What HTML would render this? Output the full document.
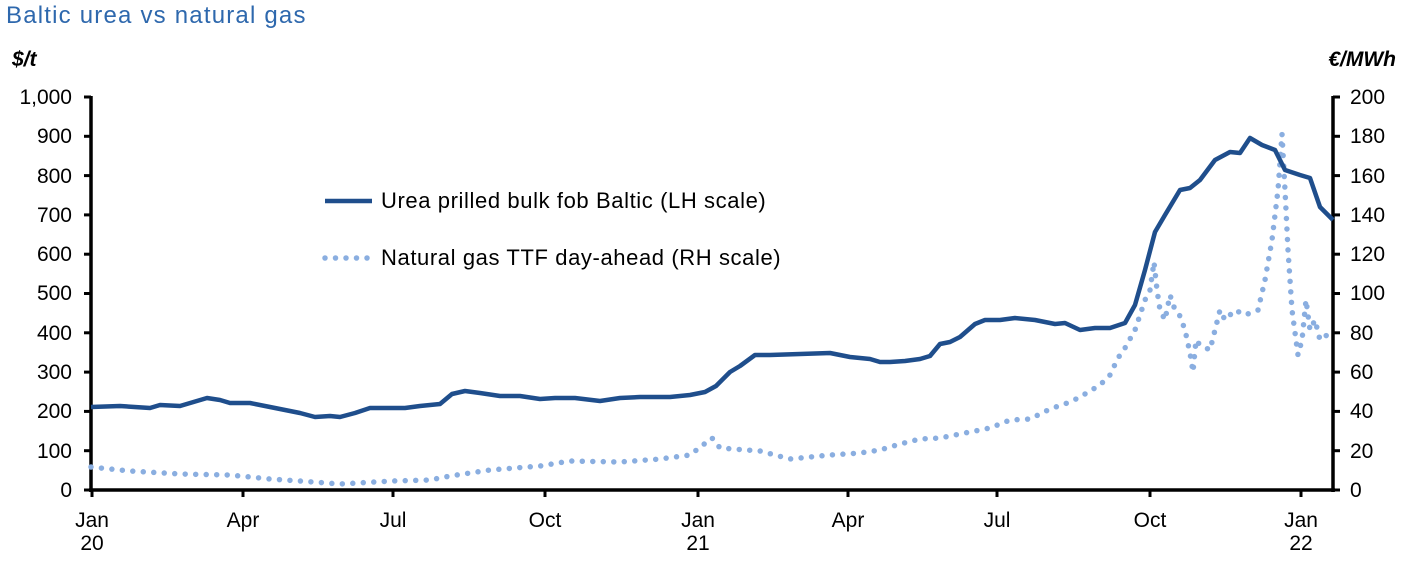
<!DOCTYPE html><html><head><style>body{margin:0;background:#fff}svg{display:block}text{font-family:"Liberation Sans",sans-serif;font-size:21px;fill:#000}</style></head><body>
<svg width="1409" height="573" viewBox="0 0 1409 573">
<text x="6" y="23" style="font-size:24px;fill:#2e68ad;letter-spacing:1.2px">Baltic urea vs natural gas</text>
<text x="12" y="66" style="font-weight:bold;font-style:italic">$/t</text>
<text x="1396" y="66" text-anchor="end" style="font-weight:bold;font-style:italic">€/MWh</text>
<g stroke="#000" stroke-width="3.5" fill="none">
<line x1="91" y1="96" x2="91" y2="492"/><line x1="1333" y1="96" x2="1333" y2="492"/><line x1="89" y1="490" x2="1335" y2="490"/>
</g>
<polyline fill="none" stroke="#8aaee0" stroke-width="5.5" stroke-linecap="round" stroke-dasharray="0 10.5" points="91,467 130,471 180,474 230,475 270,479 300,481 340,484 392,481 430,480 450,476 490,470 540,466 570,461 620,462 660,459 690,455 712,438 720,448 760,451 790,459 830,455 860,453 880,450 900,444 920,439 940,438 960,434 990,428 1010,420 1030,419 1050,409 1070,402 1080,397 1100,385 1110,375 1118,358 1125,348 1135,330 1145,300 1150,290 1154,262 1157,290 1160,310 1165,320 1170,295 1175,310 1180,316 1185,330 1190,353 1193,372 1196,340 1200,345 1210,350 1220,310 1225,320 1235,310 1245,315 1258,310 1265,280 1272,240 1278,190 1282,134 1285,190 1288,250 1292,310 1296,340 1298,355 1302,340 1306,300 1310,330 1315,320 1320,340 1327,335 1333,338"/>
<polyline fill="none" stroke="#1f4e8c" stroke-width="4.5" stroke-linejoin="round" points="91,407 120,406 150,408 160,405 180,406 207,398 220,400 230,403 250,403 270,407 300,413 315,417 330,416 340,417 355,413 370,408 385,408 405,408 420,406 440,404 452,394 465,391 480,393 500,396 520,396 540,399 555,398 575,398 600,401 620,398 640,397 670,397 690,395 705,392 716,386 730,372 740,366 755,355 770,355 800,354 830,353 850,357 870,359 880,362 890,362 905,361 920,359 930,356 940,344 950,342 960,337 975,324 985,320 1000,320 1015,318 1035,320 1055,324 1065,323 1080,330 1095,328 1110,328 1125,323 1135,305 1145,270 1155,232 1165,215 1180,190 1190,188 1200,180 1215,160 1230,152 1240,153 1250,138 1262,145 1275,150 1285,170 1300,175 1310,178 1320,207 1333,220"/>
<line x1="325" y1="201" x2="372" y2="201" stroke="#1f4e8c" stroke-width="4.5"/>
<text x="381" y="208" style="font-size:22px;letter-spacing:0.6px">Urea prilled bulk fob Baltic (LH scale)</text>
<line x1="325" y1="258" x2="372" y2="258" stroke="#8aaee0" stroke-width="5.5" stroke-linecap="round" stroke-dasharray="0 10.5"/>
<text x="381" y="265" style="font-size:22px;letter-spacing:0.6px">Natural gas TTF day-ahead (RH scale)</text>
<g stroke="#000" stroke-width="3">
<line x1="84" y1="490" x2="91" y2="490"/><line x1="84" y1="450.7" x2="91" y2="450.7"/><line x1="84" y1="411.4" x2="91" y2="411.4"/><line x1="84" y1="372.1" x2="91" y2="372.1"/><line x1="84" y1="332.8" x2="91" y2="332.8"/><line x1="84" y1="293.5" x2="91" y2="293.5"/><line x1="84" y1="254.2" x2="91" y2="254.2"/><line x1="84" y1="214.9" x2="91" y2="214.9"/><line x1="84" y1="175.6" x2="91" y2="175.6"/><line x1="84" y1="136.3" x2="91" y2="136.3"/><line x1="84" y1="97" x2="91" y2="97"/>
<line x1="1333" y1="490" x2="1340" y2="490"/><line x1="1333" y1="450.7" x2="1340" y2="450.7"/><line x1="1333" y1="411.4" x2="1340" y2="411.4"/><line x1="1333" y1="372.1" x2="1340" y2="372.1"/><line x1="1333" y1="332.8" x2="1340" y2="332.8"/><line x1="1333" y1="293.5" x2="1340" y2="293.5"/><line x1="1333" y1="254.2" x2="1340" y2="254.2"/><line x1="1333" y1="214.9" x2="1340" y2="214.9"/><line x1="1333" y1="175.6" x2="1340" y2="175.6"/><line x1="1333" y1="136.3" x2="1340" y2="136.3"/><line x1="1333" y1="97" x2="1340" y2="97"/>
<line x1="92" y1="490" x2="92" y2="497"/><line x1="243" y1="490" x2="243" y2="497"/><line x1="393" y1="490" x2="393" y2="497"/><line x1="545" y1="490" x2="545" y2="497"/><line x1="698" y1="490" x2="698" y2="497"/><line x1="848" y1="490" x2="848" y2="497"/><line x1="997" y1="490" x2="997" y2="497"/><line x1="1150" y1="490" x2="1150" y2="497"/><line x1="1301" y1="490" x2="1301" y2="497"/>
</g>
<g text-anchor="end">
<text x="72" y="497">0</text><text x="72" y="458">100</text><text x="72" y="418">200</text><text x="72" y="379">300</text><text x="72" y="340">400</text><text x="72" y="300">500</text><text x="72" y="261">600</text><text x="72" y="222">700</text><text x="72" y="183">800</text><text x="72" y="143">900</text><text x="72" y="104">1,000</text>
</g>
<g>
<text x="1350" y="497">0</text><text x="1350" y="458">20</text><text x="1350" y="418">40</text><text x="1350" y="379">60</text><text x="1350" y="340">80</text><text x="1350" y="300">100</text><text x="1350" y="261">120</text><text x="1350" y="222">140</text><text x="1350" y="183">160</text><text x="1350" y="143">180</text><text x="1350" y="104">200</text>
</g>
<g text-anchor="middle">
<text x="92" y="527">Jan</text><text x="92" y="550">20</text><text x="243" y="527">Apr</text><text x="393" y="527">Jul</text><text x="545" y="527">Oct</text><text x="698" y="527">Jan</text><text x="698" y="550">21</text><text x="848" y="527">Apr</text><text x="997" y="527">Jul</text><text x="1150" y="527">Oct</text><text x="1301" y="527">Jan</text><text x="1301" y="550">22</text>
</g>
</svg></body></html>
